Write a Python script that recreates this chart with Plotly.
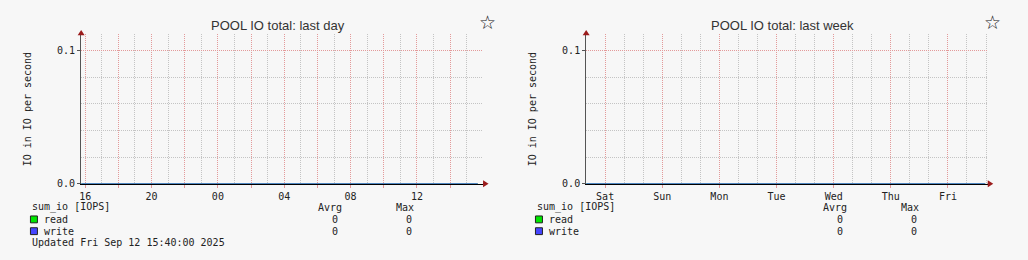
import plotly.graph_objects as go

# ---------------- data ----------------
day_times = ["2025-09-11 15:45:30", "2025-09-12 15:40:00"]
day_read = [0, 0]
day_write = [0, 0]

week_times = ["2025-09-05 16:02:00", "2025-09-12 15:40:00"]
week_read = [0, 0]
week_write = [0, 0]

day_tick_times = ["2025-09-11 16:00", "2025-09-11 18:00", "2025-09-11 20:00", "2025-09-11 22:00",
                  "2025-09-12 00:00", "2025-09-12 02:00", "2025-09-12 04:00", "2025-09-12 06:00",
                  "2025-09-12 08:00", "2025-09-12 10:00", "2025-09-12 12:00", "2025-09-12 14:00"]
day_tick_labels = ["16", "", "20", "", "00", "", "04", "", "08", "", "12", ""]

week_tick_times = ["2025-09-06", "2025-09-07", "2025-09-08", "2025-09-09",
                   "2025-09-10", "2025-09-11", "2025-09-12"]
week_tick_labels = ["Sat", "Sun", "Mon", "Tue", "Wed", "Thu", "Fri"]

y_tick_vals = [0, 0.1]
y_tick_labels = ["0.0", "0.1"]

series_names = ["read", "write"]
series_colors = ["#00e600", "#4545ff"]
day_avrg = ["0", "0"]
day_max = ["0", "0"]
week_avrg = ["0", "0"]
week_max = ["0", "0"]

titles = ["POOL IO total: last day", "POOL IO total: last week"]
y_title = "IO in IO per second"
legend_header = "sum_io [IOPS]"
updated_text = "Updated Fri Sep 12 15:40:00 2025"

# ---------------- layout constants ----------------
W, H = 1028, 260
BG = "#f7f7f7"
MONO = "DejaVu Sans Mono"
TXT = "#222222"
RED_GRID = "#e39a9a"
GREY_GRID = "#c4c4c4"
DOTS = "1px,1px"
ARROW = "#9b1c1c"

def px(x):
    return x / W

def py(y):
    return 1 - y / H

OFF = 506  # horizontal offset of the second panel
X0 = 79.3
Y0, Y1 = 187.3, 35.0

fig = go.Figure()

panels = [
    dict(x="x", y="y", times=day_times, read=day_read, write=day_write,
         ticks=day_tick_times, labels=day_tick_labels,
         rng=["2025-09-11 15:45:30", "2025-09-12 15:59:00"],
         minor=3600000, minor0="2025-09-11 16:00",
         avrg=day_avrg, mx=day_max, off=0, x1=482.0),
    dict(x="x2", y="y2", times=week_times, read=week_read, write=week_write,
         ticks=week_tick_times, labels=week_tick_labels,
         rng=["2025-09-05 16:02:00", "2025-09-12 16:44:00"],
         minor=8 * 3600000, minor0="2025-09-06 00:00",
         avrg=week_avrg, mx=week_max, off=OFF, x1=987.7),
]

annotations = []
shapes = []

def note(text, x, y, anchor="center", size=10, family=MONO, angle=0, color=TXT):
    annotations.append(dict(text=text, x=px(x), y=py(y), xref="paper", yref="paper",
                            xanchor=anchor, yanchor="middle", showarrow=False, textangle=angle,
                            borderpad=0,
                            font=dict(family=family, size=size, color=color)))

for i, p in enumerate(panels):
    for name, vals, col in zip(series_names, [p["read"], p["write"]], series_colors):
        fig.add_trace(go.Scatter(x=p["times"], y=vals, mode="lines", name=name,
                                 line=dict(color=col, width=1), xaxis=p["x"], yaxis=p["y"],
                                 showlegend=False, hoverinfo="skip"))

    xa = dict(
        type="date", range=p["rng"],
        domain=[px(X0 + p["off"]), px(p["x1"])],
        anchor=p["y"],
        tickmode="array", tickvals=p["ticks"], ticktext=p["labels"],
        showgrid=True, gridcolor=RED_GRID, griddash=DOTS, gridwidth=1,
        ticks="outside", ticklen=3, tickcolor=RED_GRID, tickwidth=1,
        tickfont=dict(family=MONO, size=10, color=TXT),
        minor=dict(dtick=p["minor"], tick0=p["minor0"], showgrid=True,
                   gridcolor=GREY_GRID, griddash=DOTS, gridwidth=1, ticks=""),
        showline=True, linecolor="#000000", linewidth=1,
        zeroline=False, fixedrange=True,
    )
    ya = dict(
        range=[0, 0.112],
        domain=[py(Y0), py(Y1)],
        anchor=p["x"],
        tickmode="array", tickvals=y_tick_vals, ticktext=y_tick_labels,
        showgrid=True, gridcolor=RED_GRID, griddash=DOTS, gridwidth=1,
        ticks="outside", ticklen=3, tickcolor="#555555", tickwidth=1,
        tickfont=dict(family=MONO, size=10, color=TXT),
        minor=dict(dtick=0.02, tick0=0, showgrid=True,
                   gridcolor=GREY_GRID, griddash=DOTS, gridwidth=1, ticks=""),
        showline=True, linecolor="#555555", linewidth=1,
        zeroline=False, fixedrange=True,
    )
    sfx = "" if i == 0 else "2"
    fig.update_layout(**{"xaxis" + sfx: xa, "yaxis" + sfx: ya})

    off = p["off"]
    ax = X0 + off
    shapes.append(dict(type="line", xref="paper", yref="paper",
                       x0=px(ax), x1=px(ax), y0=py(Y1), y1=py(33),
                       line=dict(color="#555555", width=1)))
    shapes.append(dict(type="path", xref="paper", yref="paper",
                       path=f"M {px(ax-3.5)} {py(36)} L {px(ax+3.5)} {py(36)} L {px(ax)} {py(30.5)} Z",
                       fillcolor=ARROW, line=dict(color=ARROW, width=0)))
    ex = p["x1"]
    shapes.append(dict(type="line", xref="paper", yref="paper",
                       x0=px(ex), x1=px(ex + 1), y0=py(Y0), y1=py(Y0),
                       line=dict(color="#000000", width=1)))
    shapes.append(dict(type="path", xref="paper", yref="paper",
                       path=f"M {px(ex)} {py(Y0-3.5)} L {px(ex)} {py(Y0+3.5)} L {px(ex+5.5)} {py(Y0)} Z",
                       fillcolor=ARROW, line=dict(color=ARROW, width=0)))

    note(titles[i], 276.5 + off, 26, size=13, family="Liberation Sans, Arial", color="#333333")
    note("☆", 486 + off, 22, size=19, family="DejaVu Sans", color="#111111")
    note(y_title, 25 + off, 111.5, angle=-90)
    note(legend_header, 29 + off, 211.5, anchor="left")
    note("Avrg", 329 + off, 211.5)
    note("Max", 404 + off, 211.5)
    for j, (name, col) in enumerate(zip(series_names, series_colors)):
        ry = 223.7 + 12 * j
        shapes.append(dict(type="rect", xref="paper", yref="paper",
                           x0=px(28.5 + off), x1=px(35.5 + off), y0=py(ry - 3.5), y1=py(ry + 3.5),
                           fillcolor=col, line=dict(color="#222222", width=1)))
        note(name, 41 + off, ry, anchor="left")
        note(p["avrg"][j], 333.7 + off, ry)
        note(p["mx"][j], 407.7 + off, ry)
    if i == 0:
        note(updated_text, 29, 247.5, anchor="left")

fig.update_layout(
    width=W, height=H, autosize=False,
    margin=dict(l=0, r=0, t=0, b=0, pad=0),
    paper_bgcolor=BG, plot_bgcolor=BG,
    showlegend=False,
    annotations=annotations, shapes=shapes,
)

fig.write_html("out.html", config={"displayModeBar": False, "staticPlot": True, "responsive": False})
